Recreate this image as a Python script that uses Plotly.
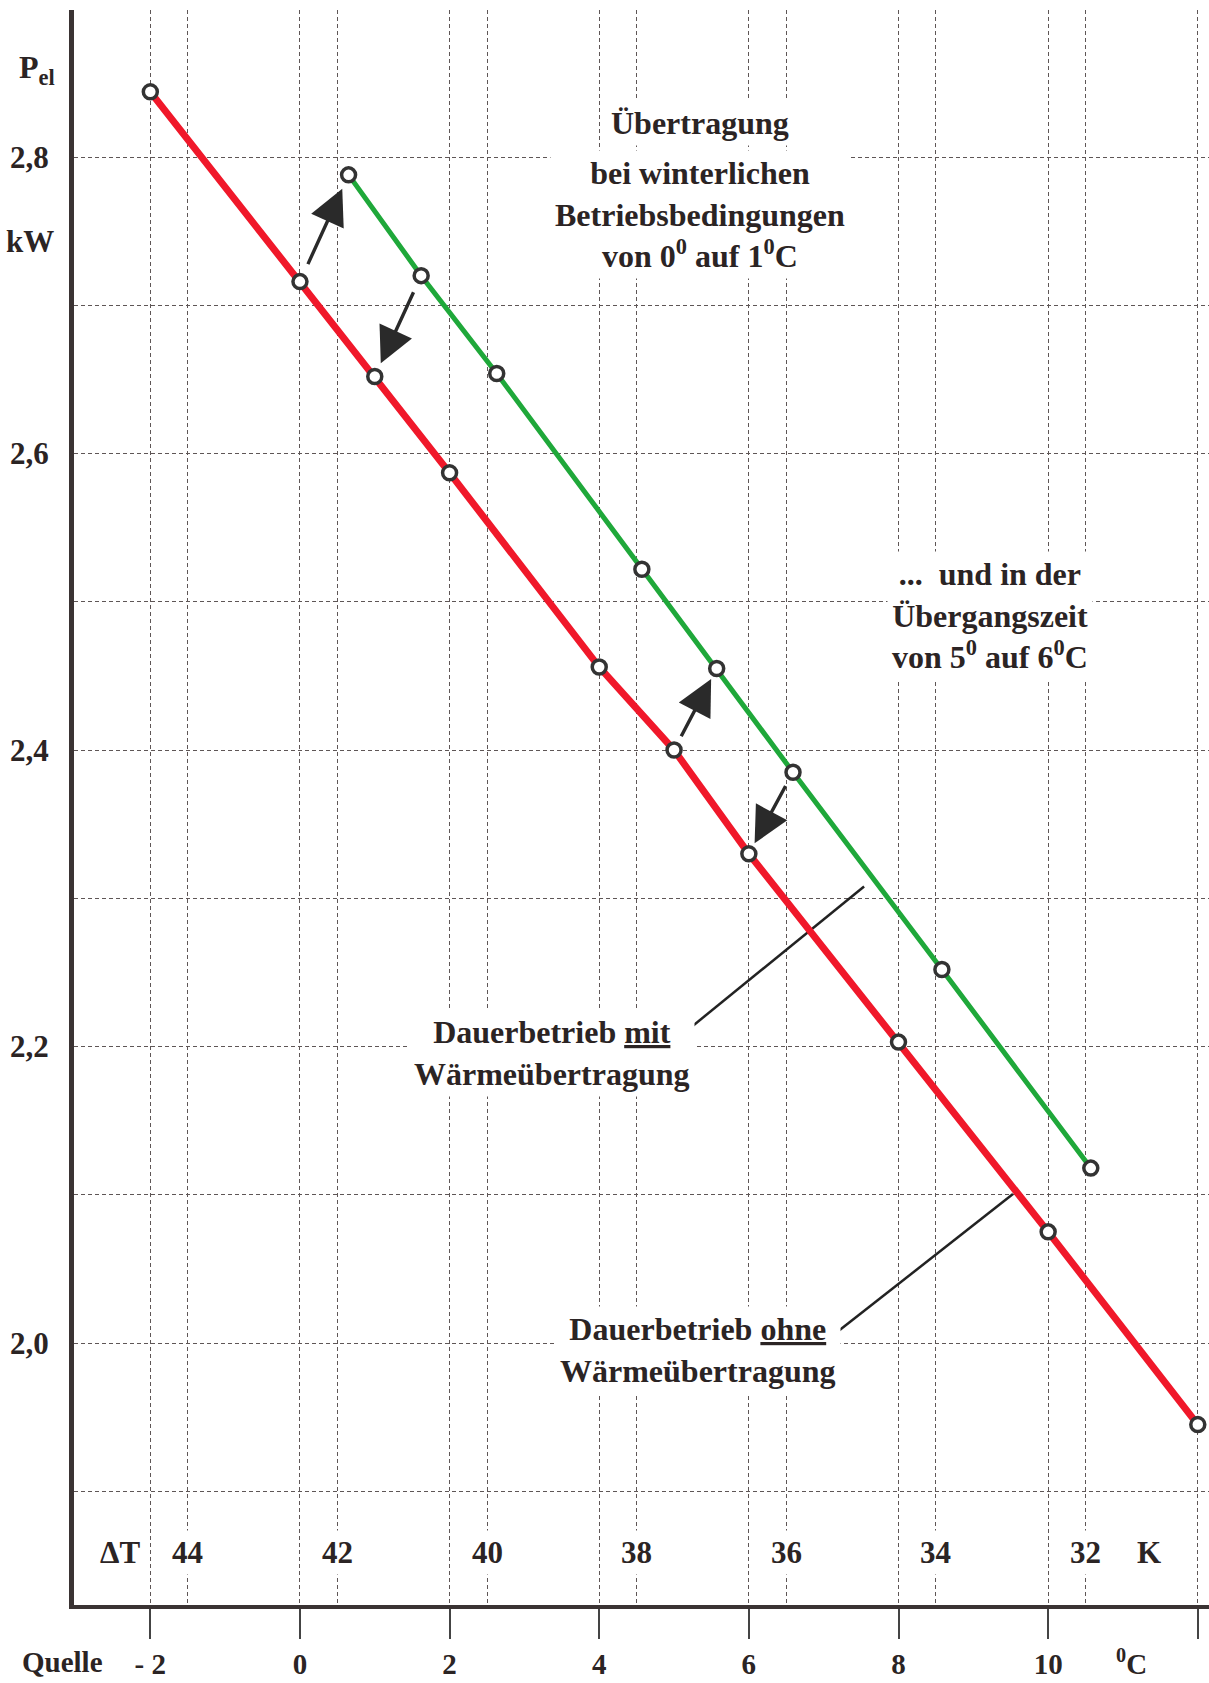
import plotly.graph_objects as go

# ---------------- data ----------------
red_x = [-2, 0, 1, 2, 4, 5, 6, 8, 10, 12]
red_y = [2.844, 2.716, 2.652, 2.587, 2.456, 2.400, 2.330, 2.203, 2.075, 1.945]

green_x = [0.65, 1.62, 2.63, 4.57, 5.57, 6.59, 8.58, 10.57]
green_y = [2.788, 2.720, 2.654, 2.522, 2.455, 2.385, 2.252, 2.118]

quelle_ticks = [-2, 0, 2, 4, 6, 8, 10, 12]
quelle_labels = ["- 2", "0", "2", "4", "6", "8", "10", ""]

dT_pos = [-1.5, 0.5, 2.5, 4.5, 6.5, 8.5, 10.5]
dT_labels = ["44", "42", "40", "38", "36", "34", "32"]

y_ticks = [2.0, 2.2, 2.4, 2.6, 2.8]
y_labels = ["2,0", "2,2", "2,4", "2,6", "2,8"]
y_minor = [1.9, 2.1, 2.3, 2.5, 2.7, 2.9]

# arrows: (from series, index) -> (to series, index)
arrow_pairs = [("red", 1, "green", 0), ("green", 1, "red", 2),
               ("red", 5, "green", 4), ("green", 5, "red", 6)]

# leader lines for the labels
mit_line_x = [5.13, 7.54]
mit_line_y = [2.209, 2.308]
ohne_line_x = [7.18, 9.53]
ohne_line_y = [2.0074, 2.1005]

TXT = "#2b2424"
FONT = "Liberation Serif"
FS = 32
TFS = 31
BFS = 29

series = {"red": (red_x, red_y), "green": (green_x, green_y)}

fig = go.Figure()

for xs, ys in [(mit_line_x, mit_line_y), (ohne_line_x, ohne_line_y)]:
    fig.add_trace(go.Scatter(x=xs, y=ys, mode="lines",
                             line=dict(color="#222", width=2.5),
                             hoverinfo="skip", showlegend=False))

fig.add_trace(go.Scatter(x=red_x, y=red_y, mode="lines+markers",
                         line=dict(color="#f0182a", width=7),
                         marker=dict(symbol="circle", size=14, color="white",
                                     line=dict(color="#333", width=3.5)),
                         showlegend=False))
fig.add_trace(go.Scatter(x=green_x, y=green_y, mode="lines+markers",
                         line=dict(color="#1fa83a", width=5),
                         marker=dict(symbol="circle", size=14, color="white",
                                     line=dict(color="#333", width=3.5)),
                         showlegend=False))

annotations = []
t0, t1 = 0.15, 0.87
for s_from, i_from, s_to, i_to in arrow_pairs:
    x0, y0 = series[s_from][0][i_from], series[s_from][1][i_from]
    x1, y1 = series[s_to][0][i_to], series[s_to][1][i_to]
    annotations.append(dict(
        x=x0 + (x1 - x0) * t1, y=y0 + (y1 - y0) * t1,
        ax=x0 + (x1 - x0) * t0, ay=y0 + (y1 - y0) * t0,
        xref="x", yref="y", axref="x", ayref="y",
        showarrow=True, arrowhead=2, arrowsize=2.1, arrowwidth=3.4,
        arrowcolor="#2a2a2a", text=""))

def txt(text, x, y, xref="x", yref="y", xanchor="center", bg="white", size=FS):
    a = dict(text=text, x=x, y=y, xref=xref, yref=yref,
             xanchor=xanchor, yanchor="middle", showarrow=False, borderpad=4,
             font=dict(family=FONT, size=size, color=TXT, weight="bold"))
    if bg:
        a["bgcolor"] = bg
    annotations.append(a)

txt("Übertragung", 5.35, 2.823)
txt("bei winterlichen<br>Betriebsbedingungen<br>von 0<sup>0</sup> auf 1<sup>0</sup>C", 5.35, 2.761)
txt("...  und in der<br>Übergangszeit<br>von 5<sup>0</sup> auf 6<sup>0</sup>C", 9.22, 2.491)
txt("Dauerbetrieb <u>mit</u><br>Wärmeübertragung", 3.37, 2.1956)
txt("Dauerbetrieb <u>ohne</u><br>Wärmeübertragung", 5.32, 1.9953)

# delta T row
txt("ΔT", -2.41, 1.859, size=TFS)
for xp, lab in zip(dT_pos, dT_labels):
    txt(lab, xp, 1.859, size=TFS)
txt("K", 11.35, 1.859, size=TFS)

# axis captions
txt("P<sub>el</sub>", -0.012, 0.9624, xref="paper", yref="paper", xanchor="right", bg=None)
txt("kW", -0.013, 0.8546, xref="paper", yref="paper", xanchor="right", bg=None, size=TFS)
txt("Quelle", 0.030, -0.036, xref="paper", yref="paper", xanchor="right", bg=None, size=BFS)
txt("<sup>0</sup>C", 11.12, -0.036, yref="paper", bg=None, size=BFS)

grid = dict(gridcolor="#5e5656", gridwidth=1.3, griddash="4px,3px")

fig.update_layout(
    width=1209, height=1683,
    margin=dict(l=74, r=0, t=10, b=78),
    paper_bgcolor="white", plot_bgcolor="white",
    annotations=annotations,
    xaxis=dict(range=[-3.02, 12.15], tickvals=quelle_ticks, ticktext=quelle_labels,
               ticks="outside", ticklen=30, tickwidth=1.5, tickcolor="#444",
               ticklabelstandoff=0,
               tickfont=dict(family=FONT, size=BFS, color=TXT, weight="bold"),
               showline=True, linewidth=4, linecolor="#3a3333",
               zeroline=False, showgrid=True, automargin=False,
               minor=dict(tickvals=dT_pos, showgrid=True, ticks="", **grid),
               **grid),
    yaxis=dict(range=[1.8233, 2.8992], tickvals=y_ticks, ticktext=y_labels,
               ticks="", ticklabelstandoff=14,
               tickfont=dict(family=FONT, size=TFS, color=TXT, weight="bold"),
               showline=True, linewidth=5, linecolor="#3a3333",
               zeroline=False, showgrid=True, automargin=False,
               minor=dict(tickvals=y_minor, showgrid=True, ticks="", **grid),
               **grid),
)

fig.write_html("out.html", config={"displayModeBar": False},
               post_script="document.body.style.margin='0';")
